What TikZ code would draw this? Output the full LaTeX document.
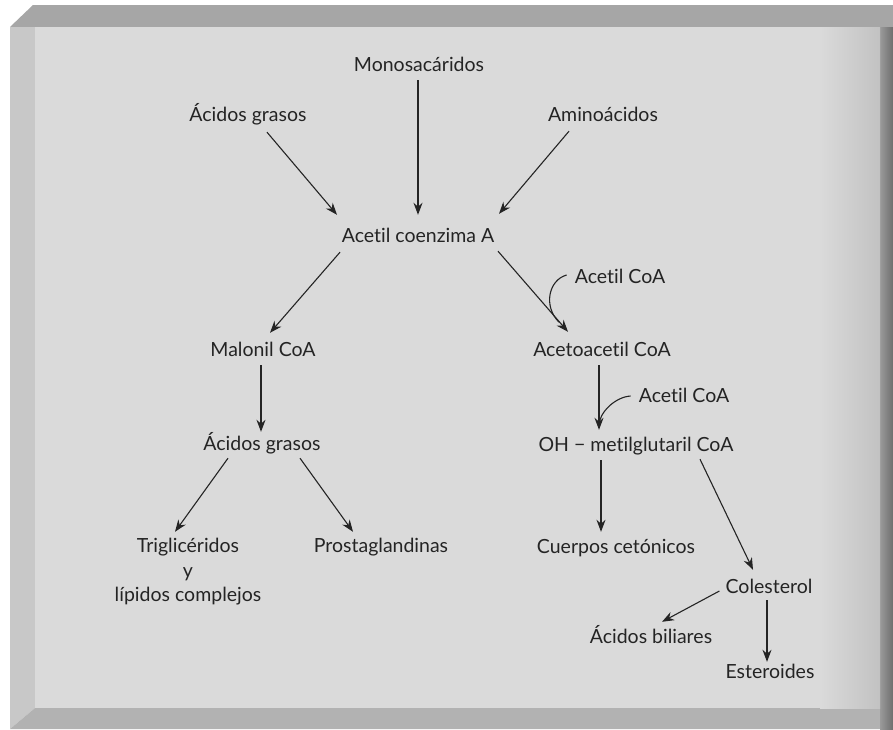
\documentclass[tikz,border=0pt]{standalone}
\usepackage{fontspec}
\setmainfont{Lato}[Ligatures=NoCommon]
\usetikzlibrary{arrows.meta,calc}
\definecolor{ink}{HTML}{242424}
\definecolor{panel}{HTML}{DADADA}
\definecolor{panelshade}{HTML}{C2C2C2}
\definecolor{bandtop}{HTML}{A6A6A6}
\definecolor{bandleft}{HTML}{C8C8C8}
\definecolor{bandbot}{HTML}{B2B2B2}
\definecolor{bandrightA}{HTML}{9A9A9A}
\definecolor{bandrightB}{HTML}{6E6E6E}
\begin{document}
\begin{tikzpicture}[x=1pt,y=-1pt,
  lbl/.style={font=\fontsize{19.5}{23}\selectfont, text=ink, inner sep=0pt,
              text height=14pt, text depth=4pt},
  arr/.style={draw=ink, line width=1.1pt, -{Stealth[length=12pt,width=9pt]}},
  link/.style={draw=ink, line width=1.1pt}]
\useasboundingbox (0,0) rectangle (893,729);
\fill[white] (0,0) rectangle (893,729);

% bevelled frame and panel
\fill[bandtop] (10,27) -- (33,5) -- (893,5) -- (893,27) -- cycle;
\fill[bandleft] (10,27) -- (35,27) -- (35,708) -- (10,729) -- cycle;
\fill[bandbot] (10,729) -- (35,708) -- (880,708) -- (893,729) -- cycle;
\shade[left color=bandrightA, right color=bandrightB] (880,27) rectangle (893,729);
\fill[panel] (35,27) rectangle (880,708);
\shade[left color=panel, right color=panelshade] (820,27) rectangle (880,708);

% labels
\node[lbl] (mono)    at (419,66)  {Monosacáridos};
\node[lbl] (ag1)     at (248,116) {Ácidos grasos};
\node[lbl] (amino)   at (603,116) {Aminoácidos};
\node[lbl] (aca)     at (418,237) {Acetil coenzima A};
\node[lbl] (accoa1)  at (620,278) {Acetil CoA};
\node[lbl] (mal)     at (263,351) {Malonil CoA};
\node[lbl] (aceto)   at (602,351) {Acetoacetil CoA};
\node[lbl] (accoa2)  at (684,397) {Acetil CoA};
\node[lbl] (ag2)     at (262,445) {Ácidos grasos};
\node[lbl] (oh)      at (636,446) {OH − metilglutaril CoA};
\node[lbl] (trig)    at (188,547) {Triglicéridos};
\node[lbl] (ytxt)    at (188,572) {y};
\node[lbl] (lip)     at (188,596) {lípidos complejos};
\node[lbl] (prosta)  at (381,547) {Prostaglandinas};
\node[lbl] (cuerpos) at (616,548) {Cuerpos cetónicos};
\node[lbl] (col)     at (769,588) {Colesterol};
\node[lbl] (bil)     at (651,638) {Ácidos biliares};
\node[lbl] (est)     at (770,673) {Esteroides};

% converging pathways
\draw[arr] ($(mono.south)+(-1,5)$) -- ($(aca.north)+(0,-13)$);
\draw[arr] ($(ag1.south)+(19,7)$) -- ($(aca.north)+(-81,-13)$);
\draw[arr] ($(amino.south)+(-34,6)$) -- ($(aca.north)+(81,-14)$);

% fatty acid branch
\draw[arr] ($(aca.south)+(-78,6)$) -- ($(mal.north)+(7,-9)$);
\draw[arr] ($(mal.south)+(-2,5)$) -- ($(ag2.north)+(-1,-4)$);
\draw[arr] ($(ag2.south)+(-34,4)$) -- ($(trig.north)+(-13,-6)$);
\draw[arr] ($(ag2.south)+(38,4)$) -- ($(prosta.north)+(-28,-6)$);

% ketone / sterol branch
\draw[arr] ($(aca.south)+(80,5)$) -- ($(aceto.north)+(-34,-10)$);
\draw[link] ($(accoa1.west)+(-8,-3)$) .. controls +(-18,5) and +(-16,-16) .. ($(aca.south)+(141,76)$);
\draw[arr] ($(aceto.south)+(-3,5)$) -- ($(oh.north)+(-37,-7)$);
\draw[link] ($(accoa2.west)+(-8,-1)$) .. controls +(-16,1) and +(0,-12) .. ($(aceto.south)+(-3,65)$);
\draw[arr] ($(oh.south)+(-35,5)$) -- ($(cuerpos.north)+(-15,-7)$);
\draw[arr] ($(oh.south)+(64,4)$) -- ($(col.north)+(-16,-9)$);
\draw[arr] ($(col.west)+(-6,3)$) -- ($(bil.north)+(11,-7)$);
\draw[arr] ($(col.south)+(-2,3)$) -- ($(est.north)+(-3,-2)$);
\end{tikzpicture}
\end{document}
